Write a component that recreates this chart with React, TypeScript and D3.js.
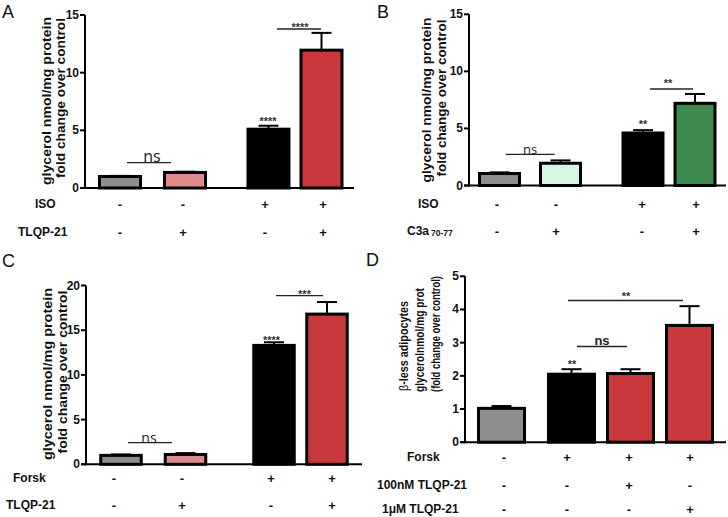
import React from "react";
import * as d3 from "d3";

// ---------- DATA ----------
// Panel A
const aCategories = ["ctrl", "TLQP-21", "ISO", "ISO+TLQP-21"];
const aValues = [1.0, 1.35, 5.1, 11.95];
const aErrors = [0.05, 0.06, 0.3, 1.5];
const aColors = ["#8e8e8e", "#df8b8d", "#000000", "#c9383b"];
const aTicks = [0, 5, 10, 15];
const aRowNames = ["ISO", "TLQP-21"];
const aRow1 = ["-", "-", "+", "+"];
const aRow2 = ["-", "+", "-", "+"];

// Panel B
const bCategories = ["ctrl", "C3a", "ISO", "ISO+C3a"];
const bValues = [1.05, 1.95, 4.6, 7.2];
const bErrors = [0.1, 0.25, 0.25, 0.82];
const bColors = ["#8e8e8e", "#d6f5e3", "#000000", "#3e8a4f"];
const bTicks = [0, 5, 10, 15];
const bRowNames = ["ISO", "C3a"];
const bRow1 = ["-", "-", "+", "+"];
const bRow2 = ["-", "+", "-", "+"];

// Panel C
const cCategories = ["ctrl", "TLQP-21", "Forsk", "Forsk+TLQP-21"];
const cValues = [1.0, 1.1, 13.3, 16.8];
const cErrors = [0.1, 0.15, 0.35, 1.35];
const cColors = ["#8e8e8e", "#df8b8d", "#000000", "#c9383b"];
const cTicks = [0, 5, 10, 15, 20];
const cRowNames = ["Forsk", "TLQP-21"];
const cRow1 = ["-", "-", "+", "+"];
const cRow2 = ["-", "+", "-", "+"];

// Panel D
const dCategories = ["ctrl", "Forsk", "Forsk+100nM", "Forsk+1uM"];
const dValues = [1.02, 2.05, 2.07, 3.52];
const dErrors = [0.07, 0.15, 0.13, 0.58];
const dColors = ["#8e8e8e", "#000000", "#c9383b", "#c9383b"];
const dTicks = [0, 1, 2, 3, 4, 5];
const dRowNames = ["Forsk", "100nM TLQP-21", "1μM TLQP-21"];
const dRow1 = ["-", "+", "+", "+"];
const dRow2 = ["-", "-", "+", "-"];
const dRow3 = ["-", "-", "-", "+"];

const FONT = "'Liberation Sans', Arial, sans-serif";

type Sig = { text: string; x1: number; x2: number; y: number; tx: number; ty: number; kind: "ns" | "star"; size?: number; bold?: boolean };
type Spec = {
  letter: string; lx: number; ly: number;
  categories: string[]; values: number[]; errors: number[]; colors: string[]; ticks: number[];
  axisX: number; y0: number; yTop: number; xEnd: number;
  centers: number[]; barW: number; signCenters: number[];
  rows: { name: React.ReactNode; x: number; y: number; signs: string[] }[];
  yLines: { text: React.ReactNode; x: number; y: number; len?: number; size: number }[];
  sigs: Sig[];
  barStars: { text: string; x: number; cy: number }[];
};

function Panel({ s }: { s: Spec }) {
  const yMax = s.ticks[s.ticks.length - 1];
  const y = d3.scaleLinear().domain([0, yMax]).range([s.y0, s.yTop]);
  const x = d3.scaleOrdinal<string, number>().domain(s.categories).range(s.centers);
  const sx = d3.scaleOrdinal<string, number>().domain(s.categories).range(s.signCenters);
  const bw = s.barW - 3;
  const starSize = 11;
  return (
    <g fontFamily={FONT}>
      <text x={s.lx} y={s.ly} fontSize={18} fill="#111">{s.letter}</text>
      {/* y label */}
      {s.yLines.map((l, i) => (
        <text key={i} transform={`translate(${l.x},${l.y}) rotate(-90)`} textAnchor="middle" dominantBaseline="central"
          fontSize={l.size} fontWeight="bold" fill="#111"
          {...(l.len ? { textLength: l.len, lengthAdjust: "spacingAndGlyphs" } : {})}>{l.text}</text>
      ))}
      {/* error bars */}
      {s.categories.map((c, i) => {
        const cx = x(c);
        const yt = y(s.values[i] + s.errors[i]);
        return (
          <g key={"e" + i} stroke="#000" strokeWidth={2}>
            <line x1={cx} x2={cx} y1={y(s.values[i])} y2={yt} />
            <line x1={cx - 10} x2={cx + 10} y1={yt} y2={yt} />
          </g>
        );
      })}
      {/* bars */}
      {s.categories.map((c, i) => (
        <rect key={"b" + i} x={x(c) - bw / 2} width={bw} y={y(s.values[i])} height={y(0) - y(s.values[i])}
          fill={s.colors[i]} stroke="#000" strokeWidth={3} />
      ))}
      {/* axes */}
      <line x1={s.axisX} x2={s.axisX} y1={y(yMax)} y2={y(0) + 1} stroke="#000" strokeWidth={2} />
      <line x1={s.axisX - 5} x2={s.xEnd} y1={y(0)} y2={y(0)} stroke="#000" strokeWidth={2} />
      {s.ticks.map((t) => (
        <g key={"t" + t}>
          <line x1={s.axisX - 5} x2={s.axisX} y1={y(t)} y2={y(t)} stroke="#000" strokeWidth={2} />
          <text x={s.axisX - 6} y={y(t)} textAnchor="end" dominantBaseline="central" fontSize={12} fontWeight="bold" fill="#111">{t}</text>
        </g>
      ))}
      {/* significance */}
      {s.sigs.map((g, i) => (
        <g key={"s" + i}>
          <line x1={g.x1} x2={g.x2} y1={g.y} y2={g.y} stroke="#222" strokeWidth={1.3} />
          {g.kind === "ns" ? (
            <text x={g.tx} y={g.ty} textAnchor="middle" fontSize={g.size ?? 14} fontWeight={g.bold ? "bold" : "normal"} fill="#222"
              fontFamily={g.bold ? FONT : "'Open Sans', sans-serif"}>{g.text}</text>
          ) : (
            <text x={g.tx} y={g.ty + starSize * 0.6} textAnchor="middle" fontSize={starSize} fontWeight="bold" fill="#333">{g.text}</text>
          )}
        </g>
      ))}
      {s.barStars.map((b, i) => (
        <text key={"bs" + i} x={b.x} y={b.cy + starSize * 0.6} textAnchor="middle" fontSize={starSize} fontWeight="bold" fill="#333">{b.text}</text>
      ))}
      {/* condition rows */}
      {s.rows.map((r, ri) => (
        <g key={"r" + ri}>
          <text x={r.x} y={r.y} dominantBaseline="central" fontSize={12} fontWeight="bold" fill="#111">{r.name}</text>
          {s.categories.map((c, i) => (
            <text key={i} x={sx(c)} y={r.y} textAnchor="middle" dominantBaseline="central" fontSize={13} fontWeight="bold" fill="#111">{r.signs[i]}</text>
          ))}
        </g>
      ))}
    </g>
  );
}

const specA: Spec = {
  letter: "A", lx: 2, ly: 18,
  categories: aCategories, values: aValues, errors: aErrors, colors: aColors, ticks: aTicks,
  axisX: 85, y0: 188, yTop: 15, xEnd: 354,
  centers: [120, 185, 268.5, 321.5], barW: 44, signCenters: [120, 183, 265, 323],
  rows: [
    { name: aRowNames[0], x: 35, y: 204, signs: aRow1 },
    { name: aRowNames[1], x: 18, y: 232, signs: aRow2 },
  ],
  yLines: [
    { text: "glycerol nmol/mg protein", x: 46, y: 101, size: 13.5, len: 168 },
    { text: "fold change over control", x: 60, y: 98, size: 13.5, len: 160 },
  ],
  sigs: [
    { text: "ns", kind: "ns", x1: 127, x2: 171, y: 162.7, tx: 152, ty: 162, size: 16 },
    { text: "****", kind: "star", x1: 277, x2: 321, y: 29, tx: 300, ty: 24 },
  ],
  barStars: [{ text: "****", x: 268, cy: 118 }],
};

const specB: Spec = {
  letter: "B", lx: 377, ly: 18,
  categories: bCategories, values: bValues, errors: bErrors, colors: bColors, ticks: bTicks,
  axisX: 469, y0: 185.5, yTop: 14.3, xEnd: 726,
  centers: [499.5, 560.5, 643, 695], barW: 43, signCenters: [497, 556, 642, 696],
  rows: [
    { name: bRowNames[0], x: 418, y: 204, signs: bRow1 },
    { name: <>{bRowNames[1]}<tspan fontSize={8.5} dx={2} dy={2}>70-77</tspan></>, x: 407, y: 231, signs: bRow2 },
  ],
  yLines: [
    { text: "glycerol nmol/mg protein", x: 426, y: 100, size: 13.5, len: 165 },
    { text: "fold change over control", x: 441, y: 98, size: 13.5, len: 157 },
  ],
  sigs: [
    { text: "ns", kind: "ns", x1: 505.7, x2: 554.7, y: 154.3, tx: 530, ty: 154, size: 13 },
    { text: "**", kind: "star", x1: 650, x2: 693, y: 89, tx: 668, ty: 80 },
  ],
  barStars: [{ text: "**", x: 643, cy: 121.7 }],
};

const specC: Spec = {
  letter: "C", lx: 2, ly: 267,
  categories: cCategories, values: cValues, errors: cErrors, colors: cColors, ticks: cTicks,
  axisX: 86, y0: 464.3, yTop: 285.5, xEnd: 362,
  centers: [121, 185.5, 274, 327], barW: 43.5, signCenters: [114, 182, 271, 332],
  rows: [
    { name: cRowNames[0], x: 13, y: 478, signs: cRow1 },
    { name: cRowNames[1], x: 6, y: 505, signs: cRow2 },
  ],
  yLines: [
    { text: "glycerol nmol/mg protein", x: 47, y: 374, size: 13.5, len: 172 },
    { text: "fold change over control", x: 62, y: 372, size: 13.5, len: 163 },
  ],
  sigs: [
    { text: "ns", kind: "ns", x1: 128, x2: 172, y: 442.7, tx: 149, ty: 443, size: 14 },
    { text: "***", kind: "star", x1: 276, x2: 323, y: 295.7, tx: 304.5, ty: 291 },
  ],
  barStars: [{ text: "****", x: 271.5, cy: 337 }],
};

const specD: Spec = {
  letter: "D", lx: 366, ly: 266,
  categories: dCategories, values: dValues, errors: dErrors, colors: dColors, ticks: dTicks,
  axisX: 465, y0: 442.2, yTop: 276.3, xEnd: 726,
  centers: [501.5, 571.5, 630.5, 689.5], barW: 49, signCenters: [504, 567, 629, 690],
  rows: [
    { name: dRowNames[0], x: 407, y: 457, signs: dRow1 },
    { name: dRowNames[1], x: 377, y: 485, signs: dRow2 },
    { name: dRowNames[2], x: 382, y: 509, signs: dRow3 },
  ],
  yLines: [
    { text: <><tspan fontWeight="normal">β</tspan>-less adipocytes</>, x: 403, y: 346, size: 13, len: 90 },
    { text: "glycerolnmol/mg prot", x: 419, y: 340, size: 13, len: 104 },
    { text: "(fold change over control)", x: 435, y: 334, size: 13, len: 116 },
  ],
  sigs: [
    { text: "ns", kind: "ns", x1: 577, x2: 627, y: 346.5, tx: 602, ty: 345, size: 13, bold: true },
    { text: "**", kind: "star", x1: 568, x2: 683, y: 300.5, tx: 626, ty: 293 },
  ],
  barStars: [{ text: "**", x: 572, cy: 361.7 }],
};

export default function App() {
  return (
    <svg width={728} height={517} style={{ position: "absolute", left: 0, top: 0, background: "#fff" }}>
      <rect width={728} height={517} fill="#fff" />
      <Panel s={specA} />
      <Panel s={specB} />
      <Panel s={specC} />
      <Panel s={specD} />
    </svg>
  );
}
